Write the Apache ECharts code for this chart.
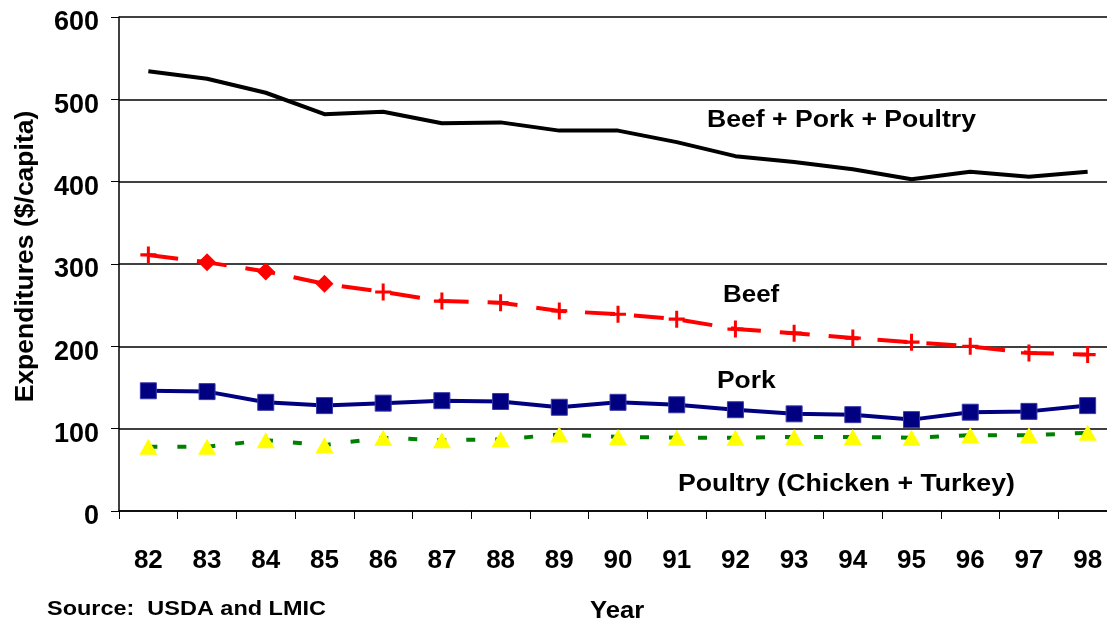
<!DOCTYPE html>
<html>
<head>
<meta charset="utf-8">
<script src="https://cdn.jsdelivr.net/npm/echarts@6/dist/echarts.min.js"></script>
<style>
  html, body { margin: 0; padding: 0; background: #fff; overflow: hidden; }
  #chart { width: 1117px; height: 622px; }
</style>
</head>
<body>
<div id="chart"></div>
<script>
// Per-capita meat expenditures, 1982-1998 ($/capita)
const years = ['82','83','84','85','86','87','88','89','90','91','92','93','94','95','96','97','98'];
const totalMeat = [534, 525, 508, 482, 485, 471, 472, 462, 462, 448, 431, 424, 415, 403, 412, 406, 412];
const beef      = [311, 302, 291, 276, 266, 255, 253, 243, 239, 233, 221, 216, 210, 205, 200, 192, 190];
const pork      = [146, 145, 132, 128, 131, 134, 133, 126, 132, 129, 123, 118, 117, 111, 120, 121, 128];
const poultry   = [78, 78, 86, 80, 89, 86, 87, 93, 90, 89, 89, 90, 90, 89, 92, 92, 95];
// marker shape used for each beef point
const beefMarks = ['plus','diamond','diamond','diamond','plus','plus','plus','plus','plus','plus','plus','plus','plus','plus','plus','plus','plus'];
const yTicks = [0, 100, 200, 300, 400, 500, 600];

const FONT = '"Liberation Sans", Arial, sans-serif';
const PLUS = 'path://M-1.5,-8h3v16h-3z M-8,-1.5h16v3h-16z';

const chart = echarts.init(document.getElementById('chart'), null, { renderer: 'canvas' });

const beefPoints = beef.map((v, i) => ({
  value: v,
  symbol: beefMarks[i] === 'plus' ? PLUS : 'diamond',
  symbolSize: beefMarks[i] === 'plus' ? [16, 17] : [18, 18]
}));

// bold annotation text, slightly widened; y is the bottom of the text box
function label(text, x, y, size, sx) {
  return {
    type: 'text', x: x, y: y, scaleX: sx, scaleY: 1,
    style: { text: text, font: 'bold ' + size + 'px ' + FONT, fill: '#000',
             align: 'left', verticalAlign: 'bottom' }
  };
}

chart.setOption({
  animation: false,
  backgroundColor: '#ffffff',
  grid: { left: 119, top: 17, right: 0, height: 494, containLabel: false },
  xAxis: {
    type: 'category',
    data: years,
    boundaryGap: true,
    axisLine: { lineStyle: { color: '#000', width: 1.5 } },
    axisTick: { show: true, length: 8, lineStyle: { color: '#000', width: 1 } },
    axisLabel: { color: '#000', fontFamily: FONT, fontWeight: 'bold', fontSize: 26, margin: 37 },
    splitLine: { show: false }
  },
  yAxis: {
    type: 'value',
    min: yTicks[0],
    max: yTicks[yTicks.length - 1],
    interval: 100,
    axisLine: { show: true, lineStyle: { color: '#000', width: 1.5 } },
    axisTick: { show: true, length: 8, lineStyle: { color: '#000', width: 1 } },
    axisLabel: { color: '#000', fontFamily: FONT, fontWeight: 'bold', fontSize: 27, margin: 20,
                 verticalAlign: 'top', lineHeight: 12 },
    splitLine: { show: true, lineStyle: { color: '#000', width: 1.5 } }
  },
  series: [
    {
      name: 'Poultry (Chicken + Turkey)',
      type: 'line',
      data: poultry,
      symbol: 'triangle',
      symbolSize: [18, 16],
      itemStyle: { color: '#ffff00' },
      lineStyle: { color: '#008000', width: 4, type: [9, 20] },
      z: 2
    },
    {
      name: 'Pork',
      type: 'line',
      data: pork,
      symbol: 'rect',
      symbolSize: 16,
      itemStyle: { color: '#000080', borderColor: '#3a3aa8', borderWidth: 1 },
      lineStyle: { color: '#000080', width: 4 },
      z: 3
    },
    {
      name: 'Beef',
      type: 'line',
      data: beefPoints,
      itemStyle: { color: '#ff0000' },
      lineStyle: { color: '#ff0000', width: 4, type: [30, 19] },
      z: 4
    },
    {
      name: 'Beef + Pork + Poultry',
      type: 'line',
      data: totalMeat,
      showSymbol: false,
      symbol: 'none',
      lineStyle: { color: '#000', width: 4 },
      z: 5
    }
  ],
  graphic: [
    label('Beef + Pork + Poultry', 707, 132, 24, 1.108),
    label('Beef', 723, 307, 24, 1.08),
    label('Pork', 717, 393, 24, 1.1),
    label('Poultry (Chicken + Turkey)', 678, 496, 24, 1.112),
    label('Year', 590, 623, 24, 1.07),
    label('Source:  USDA and LMIC', 47, 620, 21, 1.117),
    {
      type: 'text', x: 39, y: 256.5, rotation: Math.PI / 2,
      style: { text: 'Expenditures ($/capita)', font: 'bold 26.5px ' + FONT, fill: '#000',
               align: 'center', verticalAlign: 'bottom' }
    }
  ]
});
</script>
</body>
</html>
